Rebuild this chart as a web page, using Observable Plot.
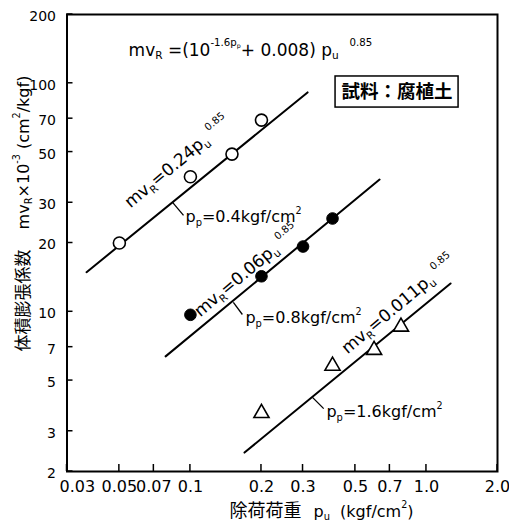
<!DOCTYPE html>
<html><head><meta charset="utf-8">
<script src="https://cdn.jsdelivr.net/npm/d3@7"></script>
<script src="https://cdn.jsdelivr.net/npm/@observablehq/plot@0.6"></script>
<style>html,body{margin:0;padding:0;background:#fff;} svg{display:block;background:#fff}</style>
</head><body><div id="chart"></div>
<script>
// ---- axes ----
const xTicks = [0.03, 0.05, 0.07, 0.1, 0.2, 0.3, 0.5, 0.7, 1.0, 2.0];
const xTickLabels = ["0.03", "0.05", "0.07", "0.1", "0.2", "0.3", "0.5", "0.7", "1.0", "2.0"];
const yTicks = [2, 3, 5, 7, 10, 20, 30, 50, 70, 100, 200];
const yTickLabels = ["2", "3", "5", "7", "10", "20", "30", "50", "70", "100", "200"];

// ---- measured points ----
const puOpen = [0.05, 0.1, 0.15, 0.2];        // pp = 0.4 kgf/cm2
const mvOpen = [20, 39, 49, 69];
const puFilled = [0.1, 0.2, 0.3, 0.4];        // pp = 0.8 kgf/cm2
const mvFilled = [9.7, 14.3, 19.3, 25.6];
const puTri = [0.2, 0.4, 0.6, 0.78];          // pp = 1.6 kgf/cm2
const mvTri = [3.6, 5.8, 6.8, 8.6];

// ---- fitted lines (end points) ----
const fit04Pu = [0.0363, 0.3135], fit04Mv = [14.9, 91.2];
const fit08Pu = [0.0785, 0.633],  fit08Mv = [6.38, 37.9];
const fit16Pu = [0.1695, 1.265],  fit16Mv = [2.42, 13.3];

// ---- annotations ----
const formulaText = ["mv_{R} =(10^{-1.6p_{p}}+ 0.008) p_{u}  ^{0.85}"];
const formulaPu = [0.0547], formulaMv = [132.3];
const fitLabels = ["mv_{R}=0.24p_{u} ^{0.85}", "mv_{R}=0.06p_{u} ^{0.85}", "mv_{R}=0.011p_{u} ^{0.85}"];
const fitLabelPu = [0.0558, 0.110, 0.463];
const fitLabelMv = [28.3, 9.44, 6.5];
const ppLabels = ["p_{p}=0.4kgf/cm^{2}", "p_{p}=0.8kgf/cm^{2}", "p_{p}=1.6kgf/cm^{2}"];
const ppLabelPu = [0.0953, 0.171, 0.377];
const ppLabelMv = [24.6, 8.89, 3.45];
const leaderPu1 = [0.084, 0.152, 0.329], leaderMv1 = [30.1, 10.99, 4.22];
const leaderPu2 = [0.0935, 0.166, 0.367], leaderMv2 = [26.4, 9.73, 3.77];
const sampleText = ["試料：腐植土"];
const samplePu = [0.751], sampleMv = [91.2];
const sampleBoxPu = [0.412, 1.368], sampleBoxMv = [78.3, 107.1];
const xTitleJa = "除荷荷重", xTitleMath = "p_{u}  (kgf/cm^{2})";
const yTitleJa = "体積膨張係数", yTitleMath = "mv_{R}×10^{-3} (cm^{2}/kgf)";

const rows = (xs, ys) => xs.map((x, i) => ({pu: x, mv: ys[i]}));
const xLabRows = xTicks.map((t, i) => ({t, s: xTickLabels[i]}));
const FONT = "DejaVu Sans, 'Noto Sans CJK JP', sans-serif";
const CJK = "'Noto Sans CJK JP', sans-serif";

function innerTicks(index, scales, values, dims) {
  const g = d3.create("svg:g").attr("stroke", "black").attr("stroke-width", 1.5);
  const bottom = dims.height - dims.marginBottom, left = dims.marginLeft;
  for (const t of xTicks) g.append("line").attr("x1", scales.x(t)).attr("x2", scales.x(t)).attr("y1", bottom).attr("y2", bottom - 7);
  for (const t of yTicks) g.append("line").attr("y1", scales.y(t)).attr("y2", scales.y(t)).attr("x1", left).attr("x2", left + 6);
  return g.node();
}

const chart = Plot.plot({
  width: 509, height: 525,
  marginLeft: 66.5, marginRight: 12, marginTop: 14, marginBottom: 54,
  x: {type: "log", domain: [0.03, 2], axis: null},
  y: {type: "log", domain: [2, 200], axis: null},
  style: {fontFamily: FONT, fontSize: "16px", color: "black", background: "white"},
  marks: [
    Plot.text(xLabRows.slice(0, 1), {x: "t", text: "s", frameAnchor: "bottom", dx: -7.5, dy: 9.5, textAnchor: "start", lineAnchor: "top", fontSize: 16, fontFamily: FONT}),
    Plot.text(xLabRows.slice(1), {x: "t", text: "s", frameAnchor: "bottom", dy: 9.5, lineAnchor: "top", fontSize: 16, fontFamily: FONT}),
    Plot.text(yTicks.map((t, i) => ({t, s: yTickLabels[i]})), {y: "t", text: "s", frameAnchor: "left", dx: -11, dy: 2, textAnchor: "end", fontSize: 14, fontFamily: FONT}),
    innerTicks,
    Plot.frame({stroke: "black", strokeWidth: 2}),
    Plot.line(rows(fit04Pu, fit04Mv), {x: "pu", y: "mv", stroke: "black", strokeWidth: 2}),
    Plot.line(rows(fit08Pu, fit08Mv), {x: "pu", y: "mv", stroke: "black", strokeWidth: 2}),
    Plot.line(rows(fit16Pu, fit16Mv), {x: "pu", y: "mv", stroke: "black", strokeWidth: 2}),
    Plot.link(leaderPu1.map((d, i) => ({x1: d, y1: leaderMv1[i], x2: leaderPu2[i], y2: leaderMv2[i]})), {x1: "x1", y1: "y1", x2: "x2", y2: "y2", stroke: "black", strokeWidth: 1.3}),
    Plot.dot(rows(puOpen, mvOpen), {x: "pu", y: "mv", r: 6, fill: "white", stroke: "black", strokeWidth: 1.6}),
    Plot.dot(rows(puFilled, mvFilled), {x: "pu", y: "mv", r: 5.8, fill: "black", stroke: "black", strokeWidth: 1}),
    Plot.dot(rows(puTri, mvTri), {x: "pu", y: "mv", r: 5.6, symbol: "triangle", fill: "white", stroke: "black", strokeWidth: 1.6}),
    Plot.rect([{x1: sampleBoxPu[0], x2: sampleBoxPu[1], y1: sampleBoxMv[0], y2: sampleBoxMv[1]}], {x1: "x1", x2: "x2", y1: "y1", y2: "y2", fill: "white", stroke: "black", strokeWidth: 1.5}),
    Plot.text(sampleText.map((t, i) => ({t, pu: samplePu[i], mv: sampleMv[i]})), {x: "pu", y: "mv", text: "t", fontFamily: CJK, fontWeight: "bold", fontSize: 18.5}),
    Plot.text(formulaText.map((t, i) => ({t, pu: formulaPu[i], mv: formulaMv[i]})), {x: "pu", y: "mv", text: "t", textAnchor: "start", lineAnchor: "bottom", fontSize: 17, fontFamily: FONT}),
    Plot.text(fitLabels.map((t, i) => ({t, pu: fitLabelPu[i], mv: fitLabelMv[i]})), {x: "pu", y: "mv", text: "t", textAnchor: "start", lineAnchor: "bottom", rotate: -40, fontSize: 17, fontFamily: FONT}),
    Plot.text(ppLabels.map((t, i) => ({t, pu: ppLabelPu[i], mv: ppLabelMv[i]})), {x: "pu", y: "mv", text: "t", textAnchor: "start", lineAnchor: "bottom", fontSize: 16, fontFamily: FONT}),
    Plot.text([xTitleJa], {text: d => d, frameAnchor: "bottom-left", dx: 162.5, dy: 45, textAnchor: "start", lineAnchor: "bottom", fontSize: 18, fontFamily: CJK}),
    Plot.text([xTitleMath], {text: d => d, frameAnchor: "bottom-left", dx: 246.5, dy: 45, textAnchor: "start", lineAnchor: "bottom", fontSize: 16, fontFamily: FONT}),
    Plot.text([yTitleJa], {text: d => d, frameAnchor: "left", dx: -43.5, dy: 57.5, rotate: -90, textAnchor: "middle", lineAnchor: "middle", fontSize: 17, fontFamily: CJK}),
    Plot.text([yTitleMath], {text: d => d, frameAnchor: "left", dx: -43.5, dy: -90.5, rotate: -90, textAnchor: "middle", lineAnchor: "middle", fontSize: 16, fontFamily: FONT})
  ]
});
document.getElementById("chart").appendChild(chart);

// ---- rich text: _{sub} and ^{sup} ----
function parseRich(s, base) {
  const segs = [], stack = [{shift: 0, scale: 1}];
  let buf = "";
  const flush = () => { if (buf) { const t = stack[stack.length - 1]; segs.push({text: buf, shift: t.shift, size: base * t.scale}); buf = ""; } };
  for (let i = 0; i < s.length; i++) {
    const c = s[i];
    if ((c === "_" || c === "^") && s[i + 1] === "{") {
      flush();
      const t = stack[stack.length - 1], sz = base * t.scale;
      if (c === "_") stack.push({shift: t.shift + 0.22 * sz, scale: t.scale * 0.62});
      else stack.push({shift: t.shift - 0.55 * sz, scale: t.scale * 0.6});
      i++;
    } else if (c === "}" && stack.length > 1) { flush(); stack.pop(); }
    else buf += c;
  }
  flush();
  return segs;
}
chart.querySelectorAll("text").forEach(el => {
  const s = el.textContent;
  if (!/[_^]\{/.test(s)) return;
  const base = parseFloat(getComputedStyle(el).fontSize) || 16;
  const segs = parseRich(s, base);
  el.textContent = "";
  el.style.whiteSpace = "pre";
  let cur = 0;
  for (const sg of segs) {
    const t = document.createElementNS("http://www.w3.org/2000/svg", "tspan");
    t.setAttribute("font-size", sg.size.toFixed(2));
    const d = sg.shift - cur;
    if (d) t.setAttribute("dy", d.toFixed(2));
    cur = sg.shift;
    t.textContent = sg.text;
    el.appendChild(t);
  }
});
</script></body></html>
